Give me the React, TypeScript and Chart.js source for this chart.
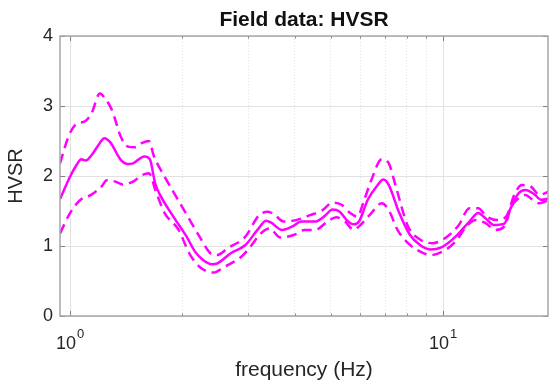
import { useEffect, useRef } from 'react';
import { Chart, registerables } from 'chart.js';

Chart.register(...registerables);

// ---- data ----
const meanFreq = [0.94, 1.0, 1.042, 1.072, 1.102, 1.143, 1.191, 1.236, 1.282, 1.368, 1.429, 1.475, 1.582, 1.637, 1.69, 1.743, 1.892, 2.055, 2.163, 2.273, 2.4, 2.479, 2.702, 2.946, 3.18, 3.354, 3.467, 3.7, 3.947, 4.165, 4.541, 4.794, 5.058, 5.282, 5.515, 5.759, 5.95, 6.28, 6.63, 6.922, 7.152, 7.63, 8.142, 8.688, 9.269, 9.89, 10.78, 11.76, 12.41, 12.96, 13.68, 14.59, 15.08, 15.91, 16.61, 17.54, 18.31, 19.24];
const meanHvsr = [1.67, 1.99, 2.16, 2.24, 2.22, 2.30, 2.44, 2.54, 2.48, 2.23, 2.17, 2.18, 2.28, 2.24, 1.90, 1.73, 1.42, 1.13, 0.92, 0.80, 0.74, 0.75, 0.90, 1.01, 1.23, 1.36, 1.33, 1.23, 1.28, 1.35, 1.35, 1.42, 1.52, 1.49, 1.37, 1.31, 1.35, 1.66, 1.85, 1.95, 1.87, 1.47, 1.16, 1.01, 0.95, 0.98, 1.13, 1.35, 1.47, 1.40, 1.30, 1.32, 1.51, 1.75, 1.80, 1.74, 1.66, 1.68];

const upperFreq = [0.94, 0.99, 1.033, 1.102, 1.143, 1.202, 1.241, 1.296, 1.368, 1.429, 1.492, 1.557, 1.627, 1.679, 1.793, 1.997, 2.226, 2.373, 2.479, 2.646, 2.946, 3.212, 3.394, 3.543, 3.738, 4.034, 4.398, 4.741, 5.058, 5.341, 5.636, 5.886, 6.146, 6.418, 6.849, 7.152, 7.467, 8.053, 8.688, 9.367, 10.11, 11.02, 11.76, 12.41, 13.1, 13.98, 14.75, 15.57, 16.26, 17.17, 18.11, 19.24];
const upperHvsr = [2.18, 2.56, 2.73, 2.79, 2.90, 3.18, 3.11, 2.94, 2.56, 2.42, 2.41, 2.47, 2.50, 2.28, 1.99, 1.56, 1.13, 0.90, 0.87, 0.97, 1.13, 1.44, 1.49, 1.44, 1.35, 1.37, 1.44, 1.51, 1.62, 1.59, 1.47, 1.42, 1.66, 1.94, 2.24, 2.18, 1.85, 1.28, 1.09, 1.04, 1.11, 1.30, 1.54, 1.54, 1.42, 1.37, 1.42, 1.75, 1.87, 1.85, 1.73, 1.78];

const lowerFreq = [0.94, 1.0, 1.067, 1.138, 1.215, 1.255, 1.324, 1.383, 1.475, 1.557, 1.627, 1.698, 1.793, 1.955, 2.085, 2.226, 2.427, 2.588, 2.884, 3.044, 3.248, 3.429, 3.659, 3.99, 4.256, 4.541, 4.898, 5.169, 5.457, 5.759, 5.95, 6.351, 6.849, 7.152, 7.545, 8.053, 8.688, 9.269, 10.11, 10.78, 11.63, 12.27, 12.96, 13.82, 14.59, 15.23, 15.91, 16.61, 17.36, 18.11, 19.24];
const lowerHvsr = [1.18, 1.47, 1.66, 1.73, 1.85, 1.94, 1.92, 1.88, 1.92, 2.01, 2.04, 1.78, 1.47, 1.23, 0.90, 0.70, 0.62, 0.70, 0.85, 0.99, 1.18, 1.25, 1.12, 1.16, 1.23, 1.23, 1.35, 1.41, 1.35, 1.23, 1.28, 1.44, 1.61, 1.51, 1.23, 1.04, 0.92, 0.87, 0.94, 1.06, 1.30, 1.37, 1.33, 1.23, 1.28, 1.56, 1.68, 1.73, 1.66, 1.61, 1.66];

const xTickValues = [1, 2, 3, 4, 5, 6, 7, 8, 9, 10];
const xMajorTicks = [1, 10];
const xMajorLabelBase = '10';
const xMajorLabelExp = ['0', '1'];
const yTickValues = [0, 1, 2, 3, 4];

const X_MIN = 0.94;
const X_MAX = 19.1;
const MAGENTA = '#ff00ff';
const FONT = '"Liberation Sans", Arial, sans-serif';
const TEXT = '#262626';

const toPoints = (xs: number[], ys: number[]) => xs.map((x, i) => ({ x, y: ys[i] }));

const framePlugin = {
  id: 'frame',
  afterDatasetsDraw(chart: any) {
    const { ctx, chartArea } = chart;
    const { left, right, top, bottom } = chartArea;
    const xs = chart.scales.x;
    const ys = chart.scales.y;
    ctx.save();
    // tick marks (inward, all four sides)
    ctx.strokeStyle = '#7f7f7f';
    ctx.lineWidth = 1;
    ctx.setLineDash([]);
    ctx.beginPath();
    for (const v of xTickValues) {
      const px = Math.round(xs.getPixelForValue(v)) + 0.5;
      const len = xMajorTicks.includes(v) ? 5 : 2.5;
      ctx.moveTo(px, bottom);
      ctx.lineTo(px, bottom - len);
      ctx.moveTo(px, top);
      ctx.lineTo(px, top + len);
    }
    for (const v of yTickValues) {
      const py = Math.round(ys.getPixelForValue(v)) + 0.5;
      ctx.moveTo(left, py);
      ctx.lineTo(left + 5, py);
      ctx.moveTo(right, py);
      ctx.lineTo(right - 5, py);
    }
    ctx.stroke();
    // box
    ctx.strokeStyle = '#a6a6a6';
    ctx.lineWidth = 1.5;
    ctx.strokeRect(left, top, right - left, bottom - top);

    // x tick labels with superscript exponent
    ctx.fillStyle = TEXT;
    ctx.textBaseline = 'alphabetic';
    ctx.textAlign = 'left';
    xMajorTicks.forEach((v, i) => {
      const px = xs.getPixelForValue(v);
      ctx.font = `18px ${FONT}`;
      const wb = ctx.measureText(xMajorLabelBase).width;
      ctx.font = `13px ${FONT}`;
      const we = ctx.measureText(xMajorLabelExp[i]).width;
      const total = wb + 1 + we;
      const x0 = px - total / 2;
      ctx.font = `18px ${FONT}`;
      ctx.fillText(xMajorLabelBase, x0, bottom + 33);
      ctx.font = `13px ${FONT}`;
      ctx.fillText(xMajorLabelExp[i], x0 + wb + 1, bottom + 22);
    });
    ctx.restore();
  },
};

export default function App() {
  const canvasRef = useRef<HTMLCanvasElement | null>(null);

  useEffect(() => {
    if (!canvasRef.current) return;
    const chart = new Chart(canvasRef.current, {
      type: 'line',
      data: {
        datasets: [
          {
            label: 'upper',
            data: toPoints(upperFreq, upperHvsr),
            borderColor: MAGENTA,
            borderWidth: 2.5,
            borderDash: [10, 6],
            pointRadius: 0,
            fill: false,
            cubicInterpolationMode: 'monotone',
          },
          {
            label: 'lower',
            data: toPoints(lowerFreq, lowerHvsr),
            borderColor: MAGENTA,
            borderWidth: 2.5,
            borderDash: [10, 6],
            pointRadius: 0,
            fill: false,
            cubicInterpolationMode: 'monotone',
          },
          {
            label: 'mean',
            data: toPoints(meanFreq, meanHvsr),
            borderColor: MAGENTA,
            borderWidth: 2.5,
            pointRadius: 0,
            fill: false,
            cubicInterpolationMode: 'monotone',
          },
        ],
      },
      options: {
        animation: false,
        responsive: false,
        devicePixelRatio: 1,
        layout: { padding: { left: 0, right: 1, top: 0, bottom: 0 } },
        plugins: {
          legend: { display: false },
          tooltip: { enabled: false },
          title: {
            display: true,
            fullSize: false,
            text: 'Field data: HVSR',
            color: '#111111',
            font: { family: FONT, size: 21, weight: 'bold', lineHeight: 1.2 },
            padding: { top: 8, bottom: 2.8 },
          },
        },
        scales: {
          x: {
            type: 'logarithmic',
            min: X_MIN,
            max: X_MAX,
            afterBuildTicks: (scale: any) => {
              scale.ticks = xTickValues.map((v) => ({ value: v, major: xMajorTicks.includes(v) }));
            },
            afterFit: (scale: any) => {
              scale.height = 69;
            },
            ticks: { display: false, autoSkip: false },
            grid: {
              color: '#e2e2e2',
              lineWidth: 1,
              drawTicks: false,
            },
            border: {
              display: false,
              dash: (ctx: any) => (ctx.tick && !xMajorTicks.includes(ctx.tick.value) ? [1, 2] : []),
            },
            title: {
              display: true,
              text: 'frequency (Hz)',
              color: TEXT,
              font: { family: FONT, size: 21, lineHeight: 1.2 },
              padding: { top: 0, bottom: 2.5 },
            },
          },
          y: {
            type: 'linear',
            min: 0,
            max: 4,
            afterFit: (scale: any) => {
              scale.width = 60;
            },
            ticks: {
              stepSize: 1,
              padding: 7,
              color: TEXT,
              font: { family: FONT, size: 18 },
            },
            grid: { color: '#e2e2e2', lineWidth: 1, drawTicks: false },
            border: { display: false },
            title: {
              display: true,
              text: 'HVSR',
              color: TEXT,
              font: { family: FONT, size: 20, lineHeight: 1.2 },
              padding: { top: 4.5, bottom: 0 },
            },
          },
        },
      },
      plugins: [framePlugin],
    } as any);
    return () => chart.destroy();
  }, []);

  return (
    <div style={{ position: 'fixed', left: 0, top: 0, width: 549, height: 385, background: '#fff' }}>
      <canvas ref={canvasRef} width={549} height={385} style={{ display: 'block' }} />
    </div>
  );
}
